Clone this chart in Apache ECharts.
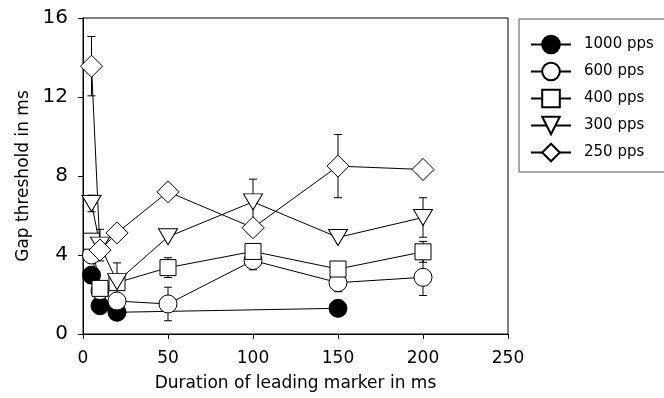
<!DOCTYPE html>
<html><head><meta charset="utf-8">
<script src="https://cdn.jsdelivr.net/npm/echarts@6/dist/echarts.min.js"></script>
<style>html,body{margin:0;padding:0;background:#fff}#c{width:664px;height:398px}</style>
</head><body><div id="c"></div>
<script>
const durations = [5, 10, 20, 50, 100, 150, 200];
const seriesNames = ['1000 pps', '600 pps', '400 pps', '300 pps', '250 pps'];
const pps1000 = [2.98, 1.43, 1.10, null, null, 1.30, null];
const pps600  = [4.0, 2.2, 1.67, 1.52, 3.72, 2.6, 2.87];
const pps400  = [4.7, 2.31, 2.6, 3.36, 4.18, 3.29, 4.16];
const pps300  = [6.61, 4.5, 2.65, 4.92, 6.69, 4.89, 5.9];
const pps250  = [13.56, 4.25, 5.12, 7.2, 5.38, 8.5, 8.33];
const err1000 = [0, 0, 0, 0, 0, 0, 0];
const err600  = [0, 0, 0, 0.85, 0.47, 0.46, 0.92];
const err400  = [0, 0, 0, 0.5, 0, 0, 0.53];
const err300  = [0.42, 0.8, 0.95, 0, 1.15, 0, 1.0];
const err250  = [1.5, 0, 0, 0, 0, 1.6, 0];
const xTicks = [0, 50, 100, 150, 200, 250];
const yTicks = [0, 4, 8, 12, 16];

const values = [pps1000, pps600, pps400, pps300, pps250];
const errors = [err1000, err600, err400, err300, err250];
const symbols = [
  {symbol: 'circle', size: 18, fill: '#000', rotate: 0},
  {symbol: 'circle', size: 18, fill: '#fff', rotate: 0},
  {symbol: 'rect', size: 16, fill: '#fff', rotate: 0},
  {symbol: 'triangle', size: [19, 16], fill: '#fff', rotate: 180},
  {symbol: 'diamond', size: 22, fill: '#fff', rotate: 0}
];
const FONT = '"DejaVu Sans", Verdana, sans-serif';

function pairs(vals) {
  const out = [];
  vals.forEach((v, i) => { if (v !== null) out.push([durations[i], v]); });
  return out;
}
const errData = [];
values.forEach((vals, s) => {
  vals.forEach((v, i) => {
    if (v !== null && errors[s][i] > 0) errData.push([durations[i], v, errors[s][i]]);
  });
});

const series = [{
  type: 'custom',
  z: 1,
  silent: true,
  data: errData,
  renderItem: function (params, api) {
    const x = api.value(0), y = api.value(1), e = api.value(2);
    const top = api.coord([x, y + e]);
    const bot = api.coord([x, y - e]);
    const w = 4;
    const st = {stroke: '#000', lineWidth: 1};
    return {type: 'group', children: [
      {type: 'line', shape: {x1: top[0], y1: top[1], x2: bot[0], y2: bot[1]}, style: st},
      {type: 'line', shape: {x1: top[0] - w, y1: top[1], x2: top[0] + w, y2: top[1]}, style: st},
      {type: 'line', shape: {x1: bot[0] - w, y1: bot[1], x2: bot[0] + w, y2: bot[1]}, style: st}
    ]};
  }
}];
values.forEach((vals, s) => {
  series.push({
    name: seriesNames[s],
    type: 'line',
    z: 2,
    data: pairs(vals),
    symbol: symbols[s].symbol,
    symbolSize: symbols[s].size,
    symbolRotate: symbols[s].rotate,
    showAllSymbol: true,
    animation: false,
    lineStyle: {color: '#000', width: 1},
    itemStyle: {color: symbols[s].fill, borderColor: '#000', borderWidth: 1},
    emphasis: {disabled: true}
  });
});

const chart = echarts.init(document.getElementById('c'), null, {renderer: 'canvas'});
chart.setOption({
  animation: false,
  backgroundColor: '#fff',
  grid: {left: 83, top: 18, right: 156, bottom: 64, show: true, borderColor: '#000', borderWidth: 1, outerBoundsMode: 'none'},
  legend: {
    orient: 'vertical', left: 519, top: 19,
    data: seriesNames,
    itemWidth: 40, itemHeight: 22, itemGap: 0,
    padding: [12, 14, 6, 11],
    borderColor: '#555', borderWidth: 1,
    textStyle: {fontFamily: FONT, fontSize: 15, color: '#000', lineHeight: 27, padding: [0, 0, 0, 8]},
    selectedMode: false
  },
  xAxis: {
    type: 'value', min: 0, max: 250, interval: 50,
    name: 'Duration of leading marker in ms', nameLocation: 'middle', nameGap: 41,
    nameTextStyle: {fontFamily: FONT, fontSize: 17, color: '#000'},
    axisLine: {lineStyle: {color: '#000', width: 1}},
    axisTick: {show: true, length: 5, lineStyle: {color: '#000'}},
    axisLabel: {fontFamily: FONT, fontSize: 17, color: '#000', margin: 16},
    splitLine: {show: false}
  },
  yAxis: {
    type: 'value', min: 0, max: 16, interval: 4,
    name: 'Gap threshold in ms', nameLocation: 'middle', nameGap: 50,
    nameTextStyle: {fontFamily: FONT, fontSize: 17, color: '#000'},
    axisLine: {show: true, lineStyle: {color: '#000', width: 1}},
    axisTick: {show: true, length: 5, lineStyle: {color: '#000'}},
    axisLabel: {fontFamily: FONT, fontSize: 20, color: '#000', margin: 15},
    splitLine: {show: false}
  },
  series: series
});
</script></body></html>
